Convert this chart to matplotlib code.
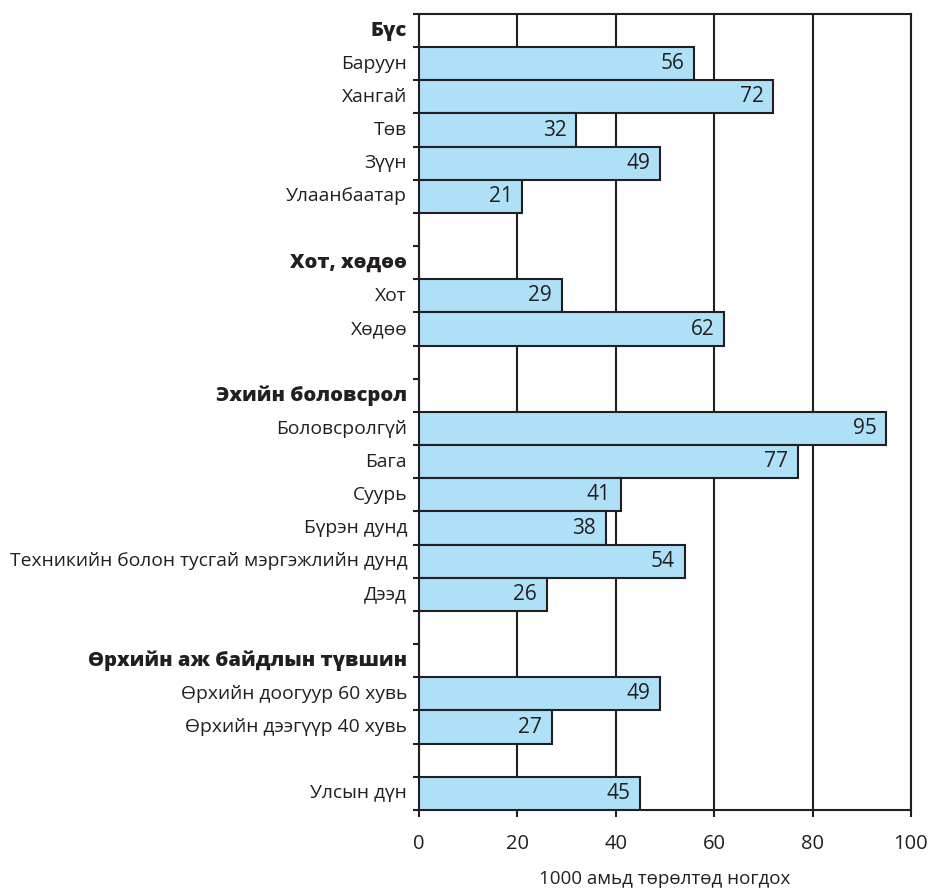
import numpy as np
import matplotlib.pyplot as plt

plt.rcParams['font.family'] = ['Open Sans', 'DejaVu Sans']

# rows from top to bottom; None = header or blank row
labels = ['Бүс', 'Баруун', 'Хангай', 'Төв', 'Зүүн', 'Улаанбаатар', '',
          'Хот, хөдөө', 'Хот', 'Хөдөө', '',
          'Эхийн боловсрол', 'Боловсролгүй', 'Бага', 'Суурь', 'Бүрэн дунд',
          'Техникийн болон тусгай мэргэжлийн дунд', 'Дээд', '',
          'Өрхийн аж байдлын түвшин', 'Өрхийн доогуур 60 хувь',
          'Өрхийн дээгүүр 40 хувь', '', 'Улсын дүн']
values = [None, 56, 72, 32, 49, 21, None,
          None, 29, 62, None,
          None, 95, 77, 41, 38, 54, 26, None,
          None, 49, 27, None, 45]
headers = ['Бүс', 'Хот, хөдөө', 'Эхийн боловсрол', 'Өрхийн аж байдлын түвшин']
xticks = [0, 20, 40, 60, 80, 100]
xlabel = '1000 амьд төрөлтөд ногдох'

ink = '#231f20'
fig = plt.figure(figsize=(9.29, 8.90), dpi=100)
ax = fig.add_axes([0.451, 0.0899, 0.5296, 0.8944])

n = len(labels)
ypos = np.arange(n)
for y, v in zip(ypos, values):
    if v is None:
        continue
    ax.barh(y, v, height=1.0, color='#aee0f8', edgecolor=ink, linewidth=1.5, zorder=3)
    ax.annotate(str(v), (v, y), xytext=(-7, 0), textcoords='offset points',
                ha='right', va='center', fontsize=15, color=ink, zorder=4)

ax.set_ylim(n - 0.5, -0.5)
ax.set_xlim(0, 100)
ax.set_xticks(xticks)
ax.set_xticklabels([str(t) for t in xticks], fontsize=14.5, color=ink)
ax.set_yticks(ypos)
ax.set_yticklabels([])
ax.tick_params(axis='y', which='major', length=0)
ax.set_yticks(np.arange(-0.5, n, 1.0), minor=True)
ax.tick_params(axis='y', which='minor', length=4, width=1.5, color=ink, direction='out')
ax.tick_params(axis='x', length=5, width=1.5, color=ink, pad=12)

for y, lab in zip(ypos, labels):
    if not lab:
        continue
    if lab in headers:
        ax.text(-2.4, y, lab, ha='right', va='center', fontsize=14.5,
                fontweight='heavy', color=ink)
    else:
        ax.text(-2.4, y, lab, ha='right', va='center', fontsize=13.9, color=ink)

ax.grid(axis='x', color=ink, linewidth=1.5, zorder=1)
ax.set_axisbelow(True)
for s in ax.spines.values():
    s.set_color(ink)
    s.set_linewidth(1.5)

ax.set_xlabel(xlabel, fontsize=13.5, color=ink, labelpad=12)

fig.savefig('out.png', dpi=100)
